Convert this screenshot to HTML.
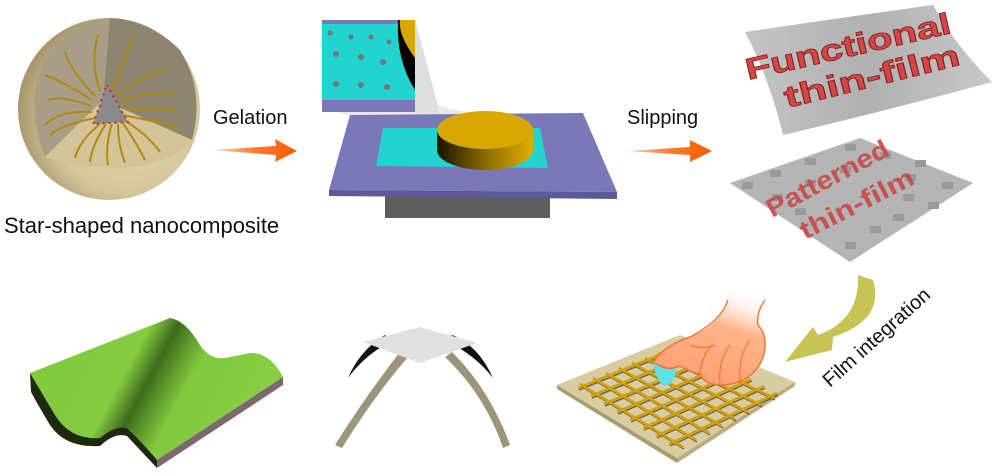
<!DOCTYPE html>
<html><head><meta charset="utf-8"><style>
html,body{margin:0;padding:0;background:#fff;}
svg{display:block;}
text{font-family:"Liberation Sans",Arial,sans-serif;}
</style></head><body>
<svg width="998" height="474" viewBox="0 0 998 474" xmlns="http://www.w3.org/2000/svg">
<defs>
<radialGradient id="sph" cx="0.6" cy="0.55" r="0.6">
<stop offset="0" stop-color="#e8dcb6"/><stop offset="0.7" stop-color="#d6c59a"/><stop offset="1" stop-color="#a8976c"/>
</radialGradient>
<linearGradient id="gold" x1="0" x2="1"><stop offset="0" stop-color="#1a1200"/><stop offset="0.5" stop-color="#8a6a00"/><stop offset="1" stop-color="#e0b000"/></linearGradient>
<linearGradient id="grn" x1="0" y1="0" x2="1" y2="0.3"><stop offset="0" stop-color="#7fca3c"/><stop offset="0.45" stop-color="#84cc40"/><stop offset="0.55" stop-color="#3f6a1c"/><stop offset="0.7" stop-color="#80c93c"/><stop offset="1" stop-color="#86cf42"/></linearGradient>
<linearGradient id="arr1" x1="0" x2="1"><stop offset="0" stop-color="#ffd0b0"/><stop offset="0.5" stop-color="#ff7a30"/><stop offset="1" stop-color="#ff5a00"/></linearGradient>
<linearGradient id="film" x1="0" x2="1"><stop offset="0" stop-color="#c4c4c4"/><stop offset="0.5" stop-color="#b0b0b0"/><stop offset="1" stop-color="#c8c8c8"/></linearGradient>
<linearGradient id="hand" x1="0" y1="1" x2="0.35" y2="0"><stop offset="0" stop-color="#ff9a6a"/><stop offset="0.65" stop-color="#ffb48a"/><stop offset="1" stop-color="#ffffff" stop-opacity="0"/></linearGradient>
</defs>

<!-- sphere -->
<circle cx="109" cy="109" r="91" fill="url(#sph)"/>
<path d="M110,18 L103,100 L45,157 Q22,100 48,55 Q75,22 110,18Z" fill="#a89e86"/>
<path d="M110,18 L103,100 L192,140 Q205,90 180,50 Q150,20 110,18Z" fill="#8e8570"/>
<path d="M45,157 L103,100 L192,140 Q170,165 125,168 Q75,168 45,157Z" fill="#d3c397"/>
<g fill="none" stroke="#b08a10" stroke-width="2">
<path d="M100,92 Q90,60 98,35"/><path d="M112,90 Q125,60 132,38"/><path d="M95,96 Q70,70 65,52"/><path d="M92,100 Q60,80 45,75"/>
<path d="M92,106 Q60,95 48,100"/><path d="M92,112 Q60,110 45,125"/><path d="M95,118 Q60,125 50,135"/>
<path d="M118,95 Q150,70 165,70"/><path d="M122,100 Q160,90 175,95"/><path d="M124,108 Q165,108 178,110"/><path d="M122,115 Q160,122 180,128"/>
<path d="M100,124 Q80,140 75,158"/><path d="M106,124 Q92,145 90,162"/><path d="M112,124 Q105,145 108,165"/><path d="M118,124 Q118,145 125,163"/><path d="M122,122 Q135,140 145,160"/><path d="M124,120 Q148,135 160,152"/>
</g>
<path d="M107,85 L128,122 L93,124Z" fill="#8a8a8a" stroke="#e02020" stroke-width="2" stroke-dasharray="2,4"/>
<text x="4" y="233" font-size="22" fill="#111">Star-shaped nanocomposite</text>

<!-- arrow gelation -->
<text x="213" y="124" font-size="20" fill="#111">Gelation</text>
<path d="M213,150 L276,146 L275,139 L297,151 L275,162 L276,155Z" fill="url(#arr1)"/>

<!-- inset -->
<path d="M415,100 L533,128 L420,128 L336,113Z" fill="#e4e4e4" opacity="0.8"/>
<path d="M415,20 L440,113 L415,113Z" fill="#dedede"/>
<rect x="322" y="20" width="93" height="92" fill="#7a78b8"/>
<rect x="322" y="24" width="93" height="76" fill="#22d4d0"/>
<path d="M415,20 L398,20 Q396,60 415,90Z" fill="#000"/>
<path d="M415,20 L400,20 Q398,35 415,58Z" fill="#d9a800"/>
<g fill="#777"><circle cx="330" cy="33" r="2.5"/><circle cx="351" cy="37" r="2.5"/><circle cx="371" cy="37" r="2.5"/><circle cx="389" cy="42" r="2.5"/><circle cx="336" cy="54" r="3"/><circle cx="361" cy="57" r="3"/><circle cx="383" cy="62" r="3"/><circle cx="336" cy="84" r="3"/><circle cx="361" cy="85" r="3"/><circle cx="387" cy="87" r="3"/></g>

<!-- plate -->
<rect x="385" y="196" width="165" height="22" fill="#5e5e5e"/>
<path d="M350,115 L583,113 L617,192 L329,190Z" fill="#7a78b8"/>
<path d="M329,190 L617,192 L617,199 L329,196Z" fill="#5c5a9a"/>
<path d="M383,128 L540,128 L548,168 L376,166Z" fill="#22d4d0"/>
<path d="M437,130 L437,150 A48,20 0 0 0 533,150 L533,130Z" fill="url(#gold)"/>
<ellipse cx="485" cy="130" rx="48" ry="19" fill="#d8a800"/>

<!-- slipping -->
<text x="627" y="124" font-size="20" fill="#111">Slipping</text>
<path d="M628,151 L690,147 L690,140 L712,151 L690,162 L690,155Z" fill="url(#arr1)"/>

<!-- functional film -->
<path d="M745,32 Q840,18 933,5 Q955,45 992,82 Q890,110 783,135 Q770,80 745,32Z" fill="url(#film)"/>
<g fill="#d04848" stroke="#8a1818" stroke-width="0.8" font-weight="bold">
<text transform="translate(748,80) rotate(-13)" font-size="30" textLength="210" lengthAdjust="spacingAndGlyphs">Functional</text>
<text transform="translate(787,108) rotate(-14)" font-size="30" textLength="180" lengthAdjust="spacingAndGlyphs">thin-film</text>
</g>

<!-- patterned film -->
<path d="M730,183 L860,138 L973,183 L850,262Z" fill="#b4b4b4"/>
<g fill="#9a9a9a">
<rect x="845" y="144" width="11" height="7"/><rect x="880" y="152" width="11" height="7"/><rect x="915" y="160" width="11" height="7"/>
<rect x="805" y="158" width="11" height="7"/><rect x="840" y="166" width="11" height="7"/><rect x="905" y="174" width="11" height="7"/><rect x="942" y="182" width="11" height="7"/>
<rect x="770" y="170" width="11" height="7"/><rect x="805" y="180" width="11" height="7"/><rect x="903" y="194" width="11" height="7"/><rect x="928" y="202" width="11" height="7"/>
<rect x="742" y="182" width="11" height="7"/><rect x="772" y="194" width="11" height="7"/><rect x="893" y="214" width="11" height="7"/>
<rect x="795" y="208" width="11" height="7"/><rect x="870" y="226" width="11" height="7"/><rect x="845" y="242" width="11" height="7"/>
</g>
<g fill="#c84848" opacity="0.9" font-weight="bold">
<text transform="translate(772,218) rotate(-28)" font-size="26" textLength="135" lengthAdjust="spacingAndGlyphs">Patterned</text>
<text transform="translate(805,240) rotate(-27)" font-size="26" textLength="125" lengthAdjust="spacingAndGlyphs">thin-film</text>
</g>

<!-- curved arrow -->
<path d="M858,275 L873,280 Q885,320 833,337 L832,350 L785,362 L813,327 L818,335 Q860,320 858,275Z" fill="#c8c454"/>
<text transform="translate(830,388) rotate(-42)" font-size="20" fill="#111">Film integration</text>

<!-- green sheet -->
<path d="M30,373 L170,318 Q185,320 200,345 Q210,360 225,358 L250,353 Q270,352 283,377 L157,460 Q140,440 127,428 Q115,425 100,438 Q70,440 55,415 Q40,390 30,373Z" fill="url(#grn)"/>
<path d="M30,373 Q40,390 55,415 Q70,440 100,438 Q115,425 127,428 Q140,440 157,460 L157,468 Q140,450 127,436 Q115,432 100,446 Q65,448 50,425 Q38,405 31,392Z" fill="#1d2a10"/>
<path d="M157,460 L283,377 L283,385 L157,468Z" fill="#8a5a8a"/>
<path d="M157,463 L283,380 L283,382 L157,465Z" fill="#5a8a28"/>

<!-- bent strip -->
<path d="M400,352 Q370,390 335,445 L342,448 Q375,395 408,357Z" fill="#9b957c"/>
<path d="M452,352 Q490,390 510,445 L503,448 Q485,395 445,357Z" fill="#9b957c"/>
<path d="M385,335 Q360,350 348,378 Q365,355 390,342Z" fill="#111"/>
<path d="M452,335 Q478,345 493,378 Q475,355 448,342Z" fill="#111"/>
<path d="M420,327 L477,343 L420,363 L363,342Z" fill="#e0e0e0"/>

<!-- grid board -->
<path d="M557,385 L680,335 L795,382 L677,458Z" fill="#d8cca0"/>
<path d="M557,385 L677,458 L677,463 L557,389Z" fill="#a89c70"/>
<path d="M677,458 L795,382 L795,386 L677,463Z" fill="#b8ac80"/>
<g stroke="#2a2000" stroke-width="1.5" opacity="0.6" transform="translate(1,2)">
<path d="M580,384 L683,447 M593,378 L696,440 M606,373 L709,433 M619,368 L722,426 M632,363 L735,419 M645,358 L748,412 M658,353 L761,405 M671,348 L774,398"/>
<path d="M578,388 L686,344 M591,396 L699,351 M604,404 L712,358 M617,412 L725,365 M630,420 L738,372 M643,428 L751,379 M656,436 L764,386 M669,444 L777,393"/>
</g>
<g stroke="#d0a010" stroke-width="2.5">
<path d="M580,384 L683,447 M593,378 L696,440 M606,373 L709,433 M619,368 L722,426 M632,363 L735,419 M645,358 L748,412 M658,353 L761,405 M671,348 L774,398"/>
<path d="M578,388 L686,344 M591,396 L699,351 M604,404 L712,358 M617,412 L725,365 M630,420 L738,372 M643,428 L751,379 M656,436 L764,386 M669,444 L777,393"/>
</g>
<!-- hand -->
<path d="M653,362 Q665,345 690,337 Q712,328 722,312 Q730,295 728,272 L775,292 Q756,310 758,325 Q770,338 762,360 Q752,382 725,385 Q705,386 700,374 Q690,372 680,366 Q668,372 653,362Z" fill="url(#hand)"/>
<path d="M728,300 Q722,320 690,337 Q665,345 653,362 Q668,372 680,366 Q690,372 700,374 Q705,386 725,385 Q752,382 762,360 Q770,338 758,325 Q756,312 765,300" fill="none" stroke="#f06a2a" stroke-width="1.3"/>
<g fill="none" stroke="#f06a2a" stroke-width="1"><path d="M700,374 Q702,355 712,345"/><path d="M720,384 Q718,360 730,345"/><path d="M740,382 Q738,355 750,340"/><path d="M690,345 Q705,350 715,345"/></g>
<path d="M653,362 Q657,385 666,386 Q676,382 676,368 Q665,372 653,362Z" fill="#5de0e8"/>
</svg>
</body></html>
